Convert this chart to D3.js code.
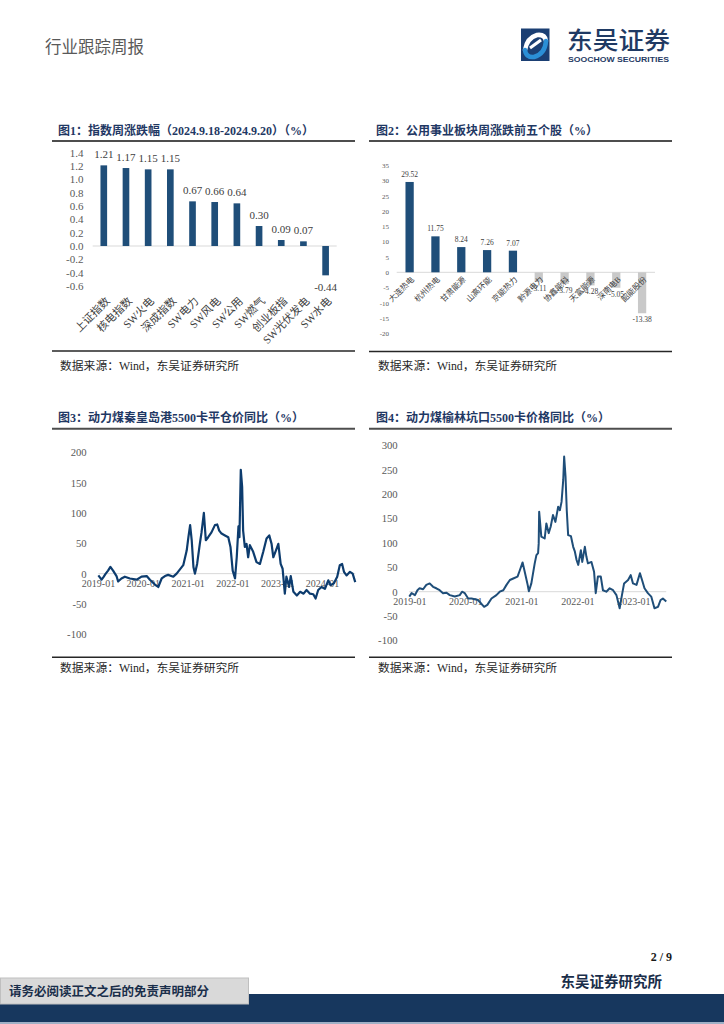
<!DOCTYPE html>
<html><head><meta charset="utf-8">
<script src="https://cdn.jsdelivr.net/npm/d3@7"></script>
<style>
html,body{margin:0;padding:0;background:#fff;}
svg{display:block;}
</style></head>
<body>
<svg id="page" width="724" height="1024"></svg>
<script>
// ---------- DATA ----------
const idxCategories = ["上证指数","核电指数","SW火电","深成指数","SW电力","SW风电","SW公用","SW燃气","创业板指","SW光伏发电","SW水电"];
const idxValues = [1.21,1.17,1.15,1.15,0.67,0.66,0.64,0.30,0.09,0.07,-0.44];
const idxTicks = [1.4,1.2,1.0,0.8,0.6,0.4,0.2,0.0,-0.2,-0.4,-0.6];

const stockNames = ["大连热电","杭州热电","甘肃能源","山高环能","京能热力","黔源电力","协鑫能科","天富能源","深南电B","韶能股份"];
const stockValues = [29.52,11.75,8.24,7.26,7.07,-3.11,-3.79,-4.28,-5.05,-13.38];
const stockTicks = [35,30,25,20,15,10,5,0,-5,-10,-15,-20];

const qhdDates = ["2019-01-04","2019-01-30","2019-02-13","2019-03-05","2019-03-24","2019-04-12","2019-05-04","2019-06-01","2019-06-14","2019-07-11",
"2019-08-08","2019-09-18","2019-11-12","2019-12-22","2020-02-02","2020-02-28","2020-04-09","2020-05-06","2020-06-03","2020-06-30",
"2020-07-26","2020-09-06","2020-10-03","2020-10-30","2020-11-26","2020-12-24","2021-01-07","2021-01-21","2021-02-03","2021-02-17",
"2021-03-01","2021-03-19","2021-04-10","2021-04-24","2021-05-13","2021-05-29","2021-06-17","2021-07-14","2021-08-11","2021-08-30",
"2021-09-15","2021-10-04","2021-11-01","2021-11-28","2021-12-16","2022-01-03","2022-01-22","2022-02-05","2022-02-19","2022-02-27",
"2022-03-10","2022-03-21","2022-03-29","2022-04-12","2022-04-26","2022-05-09","2022-05-23","2022-06-19","2022-07-16","2022-08-13",
"2022-09-09","2022-10-06","2022-10-28","2022-11-16","2022-11-30","2022-12-21","2023-01-10","2023-01-29","2023-02-14","2023-03-04",
"2023-03-17","2023-04-08","2023-04-21","2023-05-13","2023-06-10","2023-07-07","2023-08-04","2023-08-28","2023-09-25","2023-10-22",
"2023-11-10","2023-12-01","2023-12-28","2024-01-25","2024-02-21","2024-03-10","2024-04-07","2024-05-04","2024-05-25","2024-06-13",
"2024-06-28","2024-07-19","2024-08-16","2024-09-07","2024-09-28"];
const qhdValues = [-3,-10,-6,0,5,11,5,-4,-13,-8,
-5,-8,-10,-5,-4,-10,-18,-22,-8,-4,
-2,-5,0,7,14,38,60,80,55,11,
0,16,49,68,100,55,60,68,80,81,
71,66,63,60,44,5,-8,27,78,60,
171,143,71,44,49,27,47,36,19,16,
36,58,63,49,27,38,49,16,8,-33,
-5,-22,-4,-30,-36,-30,-33,-27,-33,-34,
-41,-27,-22,-25,-11,-19,-16,-5,14,16,
3,-3,3,0,-14];
const qhdTicks = [200,150,100,50,0,-50,-100];
const qhdYears = ["2019-01","2020-01","2021-01","2022-01","2023-01","2024-01"];

const ylDates = ["2019-01-01","2019-01-16","2019-02-07","2019-02-23","2019-03-09","2019-04-01","2019-04-22","2019-05-14","2019-06-05","2019-06-26",
"2019-07-18","2019-08-09","2019-09-01","2019-09-22","2019-10-25","2019-11-26","2019-12-11","2019-12-29","2020-01-20","2020-02-11",
"2020-03-24","2020-05-03","2020-05-24","2020-06-20","2020-07-22","2020-08-13","2020-09-05","2020-09-26","2020-10-18","2020-11-09",
"2020-12-07","2020-12-22","2021-01-09","2021-01-25","2021-02-11","2021-02-19","2021-03-07","2021-03-29","2021-04-09","2021-04-20",
"2021-04-24","2021-04-27","2021-05-11","2021-06-02","2021-06-13","2021-06-28","2021-07-11","2021-07-26","2021-08-11","2021-08-29",
"2021-09-09","2021-09-20","2021-10-01","2021-10-07","2021-10-16","2021-10-24","2021-11-02","2021-11-20","2021-12-05","2021-12-16",
"2021-12-27","2022-01-07","2022-01-24","2022-02-02","2022-02-19","2022-03-01","2022-03-11","2022-04-03","2022-04-20","2022-05-01",
"2022-05-15","2022-06-03","2022-06-17","2022-07-09","2022-07-31","2022-08-22","2022-09-13","2022-10-04","2022-10-19","2022-11-02",
"2022-11-28","2022-12-15","2022-12-30","2023-01-22","2023-02-13","2023-02-27","2023-03-15","2023-04-06","2023-04-28","2023-05-19",
"2023-06-11","2023-06-28","2023-07-13","2023-08-04"];
const ylValues = [-10,-3,-7,3,7,5,14,17,10,7,
3,-3,-2,-7,-10,-7,0,-3,-14,-14,
-17,-31,-27,-14,-7,0,3,14,24,27,
31,44,60,38,14,1,17,58,75,79,
99,164,113,109,140,120,133,157,143,174,
167,184,229,277,236,167,116,114,92,82,
65,55,85,61,92,72,58,61,41,-3,
31,31,3,0,7,3,-7,-34,-7,17,
24,34,17,14,38,24,7,-3,-10,-34,
-31,-17,-14,-20];
const ylTicks = [300,250,200,150,100,50,0,-50,-100];
const ylYears = ["2019-01","2020-01","2021-01","2022-01","2023-01"];

// ---------- STYLE ----------
const SERIF = "'Liberation Serif','Times New Roman',serif";
const CJK = "'Noto Sans CJK SC','Noto Sans',sans-serif";
const MIX = "'Liberation Serif','Noto Sans CJK SC',serif";
const NAVY = "#1f4e79";
const TITLE = "#1f3864";

const svg = d3.select("#page");
const parseDay = d3.timeParse("%Y-%m-%d");
const parseMonth = d3.timeParse("%Y-%m");

// ---------- HEADER ----------
svg.append("text").attr("x",45).attr("y",53).text("行业跟踪周报")
  .attr("font-family",CJK).attr("font-size",16.5).attr("fill","#595959");
const logo = svg.append("g");
logo.append("rect").attr("x",521).attr("y",28.5).attr("width",28.5).attr("height",32.5).attr("fill","#1b3f73");
logo.append("path").attr("d","M525,50 Q527,38 537,35 Q545,34 546,41").attr("fill","none").attr("stroke","#fff").attr("stroke-width",4.5).attr("stroke-linecap","round");
logo.append("path").attr("d","M546,41 Q545,54 534,57 Q526,58 525,50").attr("fill","none").attr("stroke","#2b8fd6").attr("stroke-width",4.5).attr("stroke-linecap","round");
logo.append("path").attr("d","M530,48 L541,40").attr("fill","none").attr("stroke","#fff").attr("stroke-width",3);
logo.append("text").attr("x",567).attr("y",48.5).text("东吴证券")
  .attr("font-family",CJK).attr("font-size",24).attr("font-weight",500).attr("fill","#1f3a64")
  .attr("textLength",103).attr("lengthAdjust","spacingAndGlyphs");
logo.append("text").attr("x",568).attr("y",62).text("SOOCHOW SECURITIES")
  .attr("font-family","'Liberation Sans',Arial,sans-serif").attr("font-size",8).attr("font-weight",700).attr("fill","#1f3a64")
  .attr("textLength",101).attr("lengthAdjust","spacingAndGlyphs");

// ---------- PANEL FRAMES ----------
function frame(x0,x1,titleY,lineY,bottomY,srcY,title,tx,sx){
  svg.append("text").attr("x",tx).attr("y",titleY).text(title)
    .attr("font-family",MIX).attr("font-size",12).attr("font-weight",700).attr("fill",TITLE);
  svg.append("line").attr("x1",x0).attr("x2",x1).attr("y1",lineY).attr("y2",lineY).attr("stroke","#4d4d4d").attr("stroke-width",2);
  svg.append("line").attr("x1",x0).attr("x2",x1).attr("y1",bottomY).attr("y2",bottomY).attr("stroke","#262626").attr("stroke-width",1.5);
  svg.append("text").attr("x",sx).attr("y",srcY).text("数据来源：Wind，东吴证券研究所")
    .attr("font-family",MIX).attr("font-size",11.8).attr("fill","#262626");
}
frame(52,355,134.5,141,351,369.5,"图1：指数周涨跌幅（2024.9.18-2024.9.20）（%）",58,60);
frame(369,672,134.5,141,351.5,369.5,"图2：公用事业板块周涨跌前五个股（%）",376,378);
frame(52,355,421.5,428.7,657.3,672,"图3：动力煤秦皇岛港5500卡平仓价同比（%）",58,60);
frame(369,672,421.5,428.7,657.3,672,"图4：动力煤榆林坑口5500卡价格同比（%）",376,378);

function yAxis(scale,ticks,x,fmt,size){
  const g = svg.append("g").attr("transform",`translate(${x},0)`)
    .call(d3.axisLeft(scale).tickValues(ticks).tickSize(0).tickPadding(0).tickFormat(fmt));
  g.select(".domain").remove();
  g.selectAll("text").attr("font-family",SERIF).attr("font-size",size).attr("fill","#595959");
}

// ---------- CHART 1 ----------
{
  const x = d3.scaleBand().domain(idxCategories).range([92.7,336.7]).paddingInner(0.7).paddingOuter(0.35);
  const y = d3.scaleLinear().domain([-0.6,1.4]).range([286,152.7]);
  yAxis(y,idxTicks,83.5,d=>d.toFixed(1),11);
  svg.append("line").attr("x1",92.7).attr("x2",336.7).attr("y1",y(0)).attr("y2",y(0)).attr("stroke","#d9d9d9");
  const bw = x.bandwidth();
  svg.selectAll(".b1").data(idxValues).join("rect")
    .attr("x",(d,i)=>x(idxCategories[i])).attr("width",bw)
    .attr("y",d=>Math.min(y(d),y(0))).attr("height",d=>Math.abs(y(d)-y(0)))
    .attr("fill",NAVY);
  svg.selectAll(".l1").data(idxValues).join("text")
    .attr("x",(d,i)=>x(idxCategories[i])+bw/2)
    .attr("y",d=>d>=0? y(d)-7 : y(d)+16)
    .attr("text-anchor","middle").text(d=>d.toFixed(2))
    .attr("font-family",SERIF).attr("font-size",11).attr("fill","#404040");
  svg.selectAll(".c1").data(idxCategories).join("text")
    .attr("transform",d=>`translate(${x(d)+bw/2+4},299) rotate(-45)`)
    .attr("text-anchor","end").attr("dy","0.35em").text(d=>d)
    .attr("font-family",MIX).attr("font-size",11).attr("fill","#404040");
}

// ---------- CHART 2 ----------
{
  const x = d3.scaleBand().domain(stockNames).range([396.7,655]).paddingInner(0.68).paddingOuter(0.34);
  const y = d3.scaleLinear().domain([-20,35]).range([333.5,165.2]);
  yAxis(y,stockTicks,389,d=>String(d),7);
  svg.append("line").attr("x1",396.7).attr("x2",655).attr("y1",y(0)).attr("y2",y(0)).attr("stroke","#d9d9d9");
  const bw = x.bandwidth();
  svg.selectAll(".b2").data(stockValues).join("rect")
    .attr("x",(d,i)=>x(stockNames[i])).attr("width",bw)
    .attr("y",d=>Math.min(y(d),y(0))).attr("height",d=>Math.abs(y(d)-y(0)))
    .attr("fill",d=>d>=0?NAVY:"#c9c9c9");
  svg.selectAll(".c2").data(stockNames).join("text")
    .attr("transform",d=>`translate(${x(d)+bw/2+3},278) rotate(-45)`)
    .attr("text-anchor","end").attr("dy","0.35em").text(d=>d)
    .attr("font-family",MIX).attr("font-size",8).attr("fill","#404040");
  svg.selectAll(".l2").data(stockValues).join("text")
    .attr("x",(d,i)=>x(stockNames[i])+bw/2)
    .attr("y",d=>d>=0? y(d)-5 : y(d)+9)
    .attr("text-anchor","middle").text(d=>d.toFixed(2))
    .attr("font-family",SERIF).attr("font-size",7.5).attr("fill","#404040");
}

// ---------- LINE CHARTS ----------
function lineChart(dates,values,ticks,years,d0,d1,r0,r1,yDom,yRange,yLabX,color,width){
  const x = d3.scaleTime().domain([parseMonth(d0),parseMonth(d1)]).range([r0,r1]);
  const y = d3.scaleLinear().domain(yDom).range(yRange);
  const pts = dates.map((d,i)=>({t:parseDay(d),v:values[i]}));
  yAxis(y,ticks,yLabX,d=>String(d),10.7);
  const xs = d3.extent(pts,p=>p.t);
  svg.append("line").attr("x1",x(xs[0])).attr("x2",x(xs[1])).attr("y1",y(0)).attr("y2",y(0)).attr("stroke","#d9d9d9");
  const g = svg.append("g").attr("transform",`translate(0,${y(0)})`)
    .call(d3.axisBottom(x).tickValues(years.map(parseMonth)).tickFormat(d3.timeFormat("%Y-%m")).tickSize(0).tickPadding(6));
  g.select(".domain").remove();
  g.selectAll("text").attr("font-family",SERIF).attr("font-size",10).attr("fill","#595959");
  svg.append("path").datum(pts)
    .attr("d",d3.line().x(p=>x(p.t)).y(p=>y(p.v)).curve(d3.curveLinear))
    .attr("fill","none").attr("stroke",color).attr("stroke-width",width).attr("stroke-linejoin","round");
}
lineChart(qhdDates,qhdValues,qhdTicks,qhdYears,"2019-01","2024-01",98,322,[-100,200],[634.3,452.3],86.7,"#0d3c6e",2.2);
lineChart(ylDates,ylValues,ylTicks,ylYears,"2019-01","2023-01",409.3,633.3,[-100,300],[640.5,445.3],397.7,"#1f4e79",2);

// ---------- FOOTER ----------
svg.append("text").attr("x",672).attr("y",961).attr("text-anchor","end").text("2 / 9")
  .attr("font-family",SERIF).attr("font-size",12).attr("font-weight",700).attr("fill","#1a1a1a");
svg.append("text").attr("x",662).attr("y",987).attr("text-anchor","end").text("东吴证券研究所")
  .attr("font-family",CJK).attr("font-size",14.5).attr("font-weight",700).attr("fill","#1a2e4a");
svg.append("rect").attr("x",0).attr("y",994).attr("width",724).attr("height",28).attr("fill","#17375e");
svg.append("rect").attr("x",0).attr("y",1022).attr("width",724).attr("height",2).attr("fill","#9fb0c6");
svg.append("rect").attr("x",0.5).attr("y",978).attr("width",248).attr("height",26).attr("fill","#d9d9d9").attr("stroke","#bfbfbf");
svg.append("text").attr("x",9).attr("y",995.5).text("请务必阅读正文之后的免责声明部分")
  .attr("font-family",CJK).attr("font-size",12.5).attr("font-weight",700).attr("fill","#1a2e4a");
</script>
</body></html>
